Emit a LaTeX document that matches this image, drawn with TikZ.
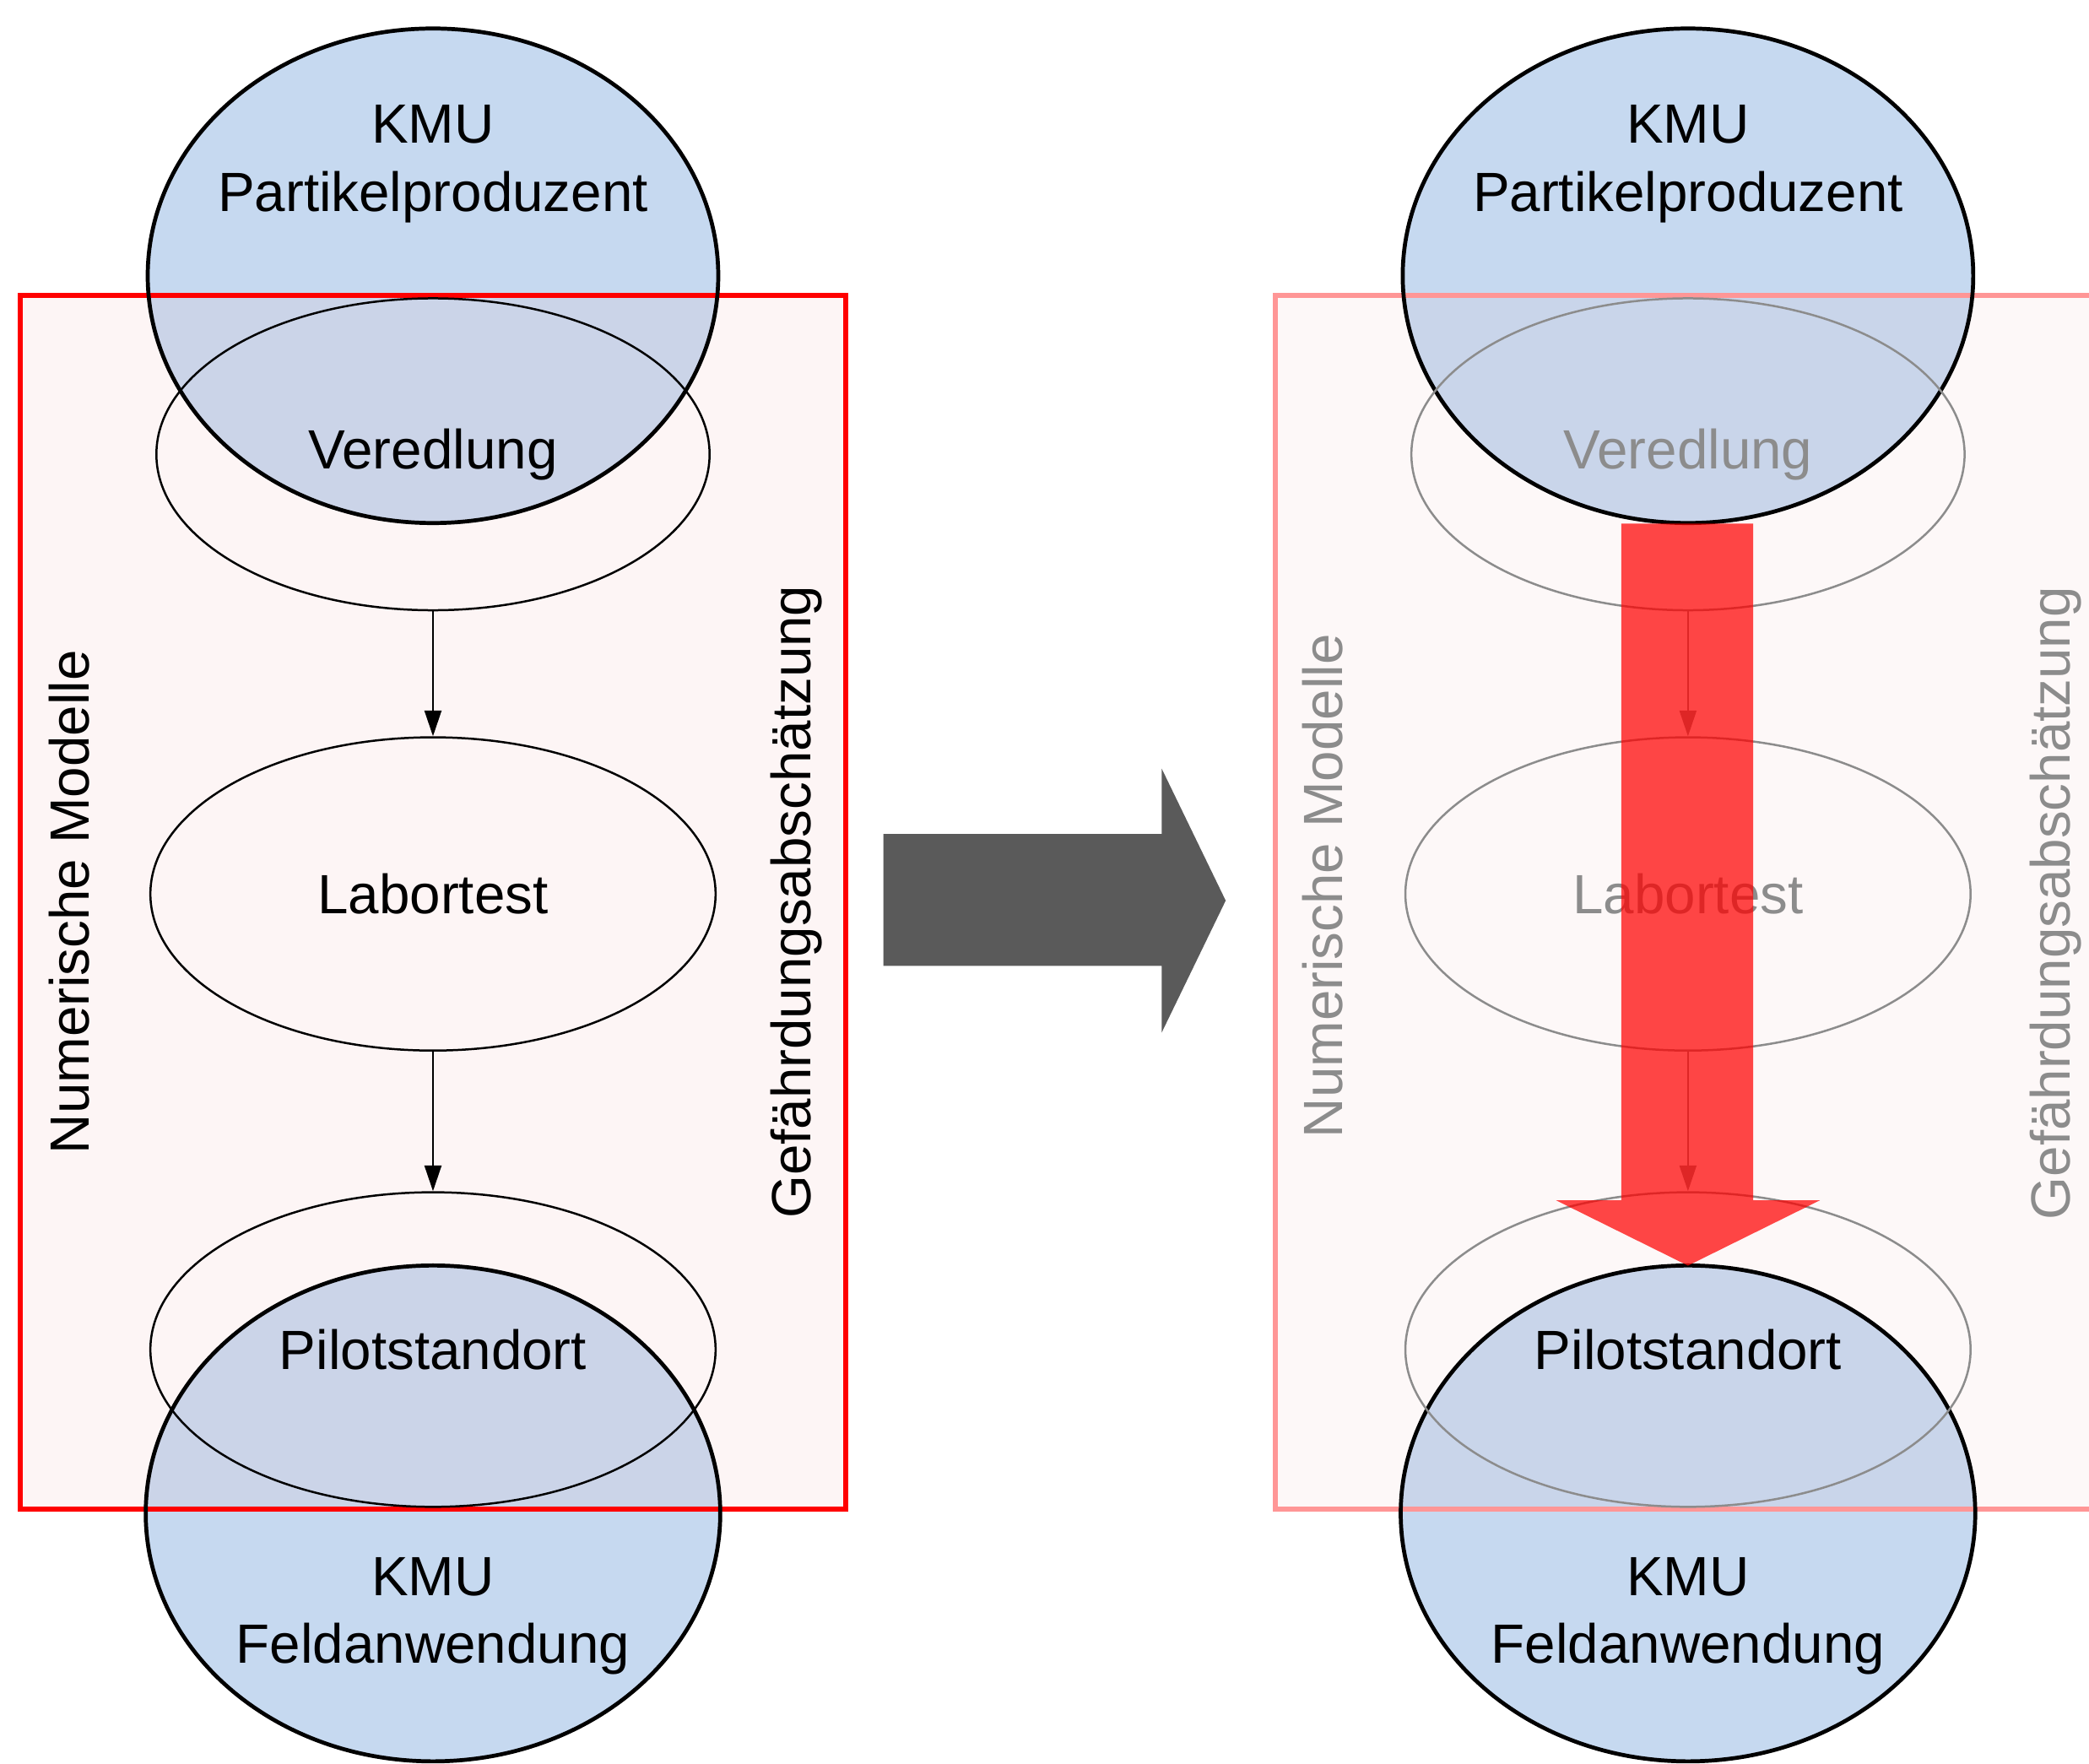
\documentclass[tikz,border=0pt]{standalone}
\usepackage{fontspec}
\setmainfont{Liberation Sans}
\usetikzlibrary{shapes.geometric,arrows.meta}
\definecolor{kmublue}{RGB}{198,217,240}
\definecolor{boxfill}{RGB}{240,180,180}
\definecolor{arrowgrey}{RGB}{90,90,90}
\definecolor{fadegrey}{RGB}{140,140,140}
\definecolor{fadered}{RGB}{255,150,150}
\begin{document}
\begin{tikzpicture}[x=0.01cm,y=-0.01cm,
  lbl/.style={font=\fontsize{11.8}{14.5}\selectfont, align=center, inner sep=0pt},
  kmufill/.style={ellipse, fill=kmublue, inner sep=0pt, minimum width=4.28cm, minimum height=3.71cm},
  kmuline/.style={ellipse, draw=black, line width=0.85pt, inner sep=0pt, minimum width=4.28cm, minimum height=3.71cm},
  stage/.style={ellipse, draw=black, line width=0.45pt, inner sep=0pt, minimum width=4.24cm, minimum height=2.35cm, font=\fontsize{11.8}{14.5}\selectfont},
  fadestage/.style={stage, draw=fadegrey, text=fadegrey},
  thinarrow/.style={line width=0.45pt, -{Triangle[length=5.5pt,width=3.6pt]}},
  zone/.style={fill=boxfill, fill opacity=0.13, draw=red, line width=1.1pt},
  fadezone/.style={fill=boxfill, fill opacity=0.09, draw=fadered, line width=1.1pt}
]
\clip (0,0) rectangle (1568,1324);
\fill[white] (0,0) rectangle (1568,1324);

% ---------------- left panel ----------------
\node[kmufill] (tl) at (325,207) {};
\node[kmufill, minimum width=4.31cm, minimum height=3.72cm] (bl) at (325,1136) {};
\draw[zone] (15,222) rectangle (635,1133);
\node[kmuline] (tlo) at (325,207) {};
\node[kmuline, minimum width=4.31cm, minimum height=3.72cm] (blo) at (325,1136) {};
\node[stage, minimum width=4.15cm, minimum height=2.34cm] (ver) at (325,341) {Veredlung};
\node[stage] (lab) at (325,671) {Labortest};
\node[stage, minimum height=2.36cm] (pil) at (325,1013) {Pilotstandort};
\draw[thinarrow] (ver.south) -- (lab.north);
\draw[thinarrow] (lab.south) -- (pil.north);
\node[lbl] (tlt) at (325,123) {KMU\\Partikelproduzent};
\node[lbl] (blt) at (325,1213) {KMU\\Feldanwendung};
\node[lbl, rotate=90] (num) at (52,677) {Numerische Modelle};
\node[lbl, rotate=90] (gef) at (598,677) {Gefährdungsabschätzung};

% ---------------- middle arrow ----------------
\fill[arrowgrey] (663,626) -- (872,626) -- (872,577) -- (920,676) -- (872,775) -- (872,725) -- (663,725) -- cycle;

% ---------------- right panel ----------------
\node[kmufill] (tr) at (1267,207) {};
\node[kmufill, minimum width=4.31cm, minimum height=3.72cm] (br) at (1267,1136) {};
\draw[fadezone] (957,222) rectangle (1600,1133);
\node[kmuline] (tro) at (1267,207) {};
\node[kmuline, minimum width=4.31cm, minimum height=3.72cm] (bro) at (1267,1136) {};
\node[fadestage, minimum width=4.15cm, minimum height=2.34cm] (ver2) at (1267,341) {Veredlung};
\node[fadestage] (lab2) at (1267,671) {Labortest};
\node[fadestage, minimum height=2.36cm, text=black] (pil2) at (1267,1013) {Pilotstandort};
\draw[thinarrow, draw=fadegrey, fill=fadegrey] (ver2.south) -- (lab2.north);
\draw[thinarrow, draw=fadegrey, fill=fadegrey] (lab2.south) -- (pil2.north);
\node[lbl] (trt) at (1267,123) {KMU\\Partikelproduzent};
\node[lbl] (brt) at (1267,1213) {KMU\\Feldanwendung};
\node[lbl, rotate=90, text=fadegrey] (num2) at (993,665) {Numerische Modelle};
\node[lbl, rotate=90, text=fadegrey] (gef2) at (1543,678) {Gefährdungsabschätzung};
\fill[red, fill opacity=0.72] (1217,393) -- (1316,393) -- (1316,901) -- (1366,901) -- (1267,950) -- (1168,901) -- (1217,901) -- cycle;
\end{tikzpicture}
\end{document}
